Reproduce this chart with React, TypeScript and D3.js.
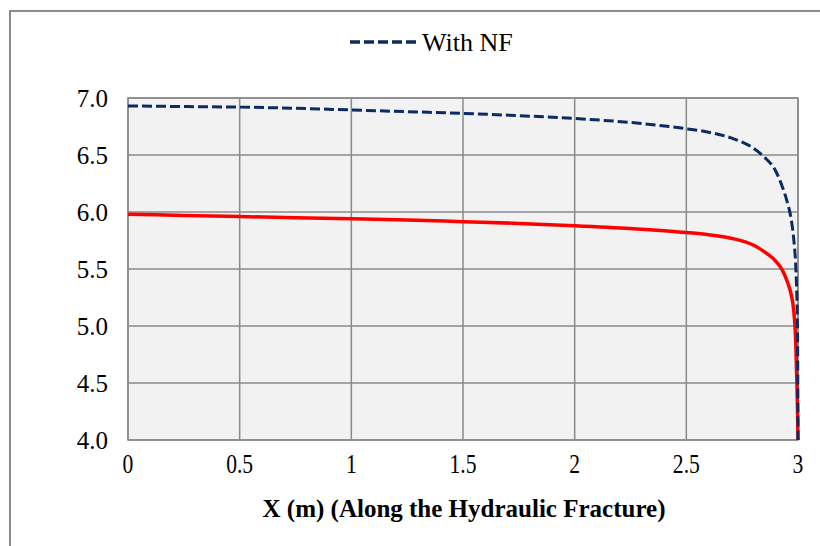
import React, { useRef, useEffect } from "react";
import * as d3 from "d3";

const xValues = [0, 0.25, 0.5, 0.75, 1, 1.25, 1.5, 1.75, 2, 2.25, 2.5, 2.6, 2.7, 2.8, 2.85, 2.9, 2.93, 2.95, 2.97, 2.98, 2.99, 2.995, 2.998, 3.0];
const withNF = [6.93, 6.925, 6.92, 6.91, 6.895, 6.88, 6.865, 6.845, 6.82, 6.785, 6.73, 6.70, 6.65, 6.56, 6.48, 6.36, 6.22, 6.10, 5.93, 5.78, 5.52, 5.25, 4.95, 4.0];
const withoutNF = [5.98, 5.97, 5.96, 5.95, 5.94, 5.93, 5.915, 5.90, 5.88, 5.855, 5.82, 5.80, 5.77, 5.71, 5.65, 5.57, 5.49, 5.40, 5.27, 5.15, 4.85, 4.5, 4.25, 4.0];
const xTicks = [0, 0.5, 1, 1.5, 2, 2.5, 3];
const yTicks = [4.0, 4.5, 5.0, 5.5, 6.0, 6.5, 7.0];

const W = 820;
const H = 546;
const FONT = "'Liberation Serif', 'Times New Roman', serif";

const App: React.FC = () => {
    const svgRef = useRef<SVGSVGElement | null>(null);

    useEffect(() => {
        if (!svgRef.current) return;
        const svg = d3.select(svgRef.current);
        svg.selectAll("*").remove();

        const left = 128, right = 798, top = 98, bottom = 440;
        const x = d3.scaleLinear().domain([0, 3]).range([left, right]);
        const y = d3.scaleLinear().domain([4, 7]).range([bottom, top]);

        // outer frame (only top/left visible in the crop)
        svg.append("path")
            .attr("d", `M10,${H} L10,11 L${W},11`)
            .attr("fill", "none")
            .attr("stroke", "#8c8c8c")
            .attr("stroke-width", 2);

        // plot area
        svg.append("rect")
            .attr("x", left).attr("y", top)
            .attr("width", right - left).attr("height", bottom - top)
            .attr("fill", "#f2f2f2");

        const grid = svg.append("g").attr("stroke", "#8a8a8a").attr("stroke-width", 1.5);
        yTicks.forEach(t => {
            grid.append("line")
                .attr("x1", left).attr("x2", right)
                .attr("y1", y(t)).attr("y2", y(t));
        });
        xTicks.forEach(t => {
            grid.append("line")
                .attr("x1", x(t)).attr("x2", x(t))
                .attr("y1", top).attr("y2", bottom);
        });

        svg.append("rect")
            .attr("x", left).attr("y", top)
            .attr("width", right - left).attr("height", bottom - top)
            .attr("fill", "none")
            .attr("stroke", "#8a8a8a")
            .attr("stroke-width", 1.5);

        // tick labels
        svg.append("g").selectAll("text")
            .data(yTicks)
            .enter()
            .append("text")
            .attr("x", 108)
            .attr("y", d => y(d))
            .attr("dy", "0.35em")
            .attr("text-anchor", "end")
            .attr("font-family", FONT)
            .attr("font-size", 25)
            .text(d => d.toFixed(1));

        // x ticks look horizontally condensed in the reference
        svg.append("g").selectAll("text")
            .data(xTicks)
            .enter()
            .append("text")
            .attr("transform", d => `translate(${x(d)},464) scale(0.8,1)`)
            .attr("dy", "0.35em")
            .attr("text-anchor", "middle")
            .attr("font-family", FONT)
            .attr("font-size", 27)
            .text(d => String(d));

        svg.append("text")
            .attr("x", 464)
            .attr("y", 508)
            .attr("dy", "0.35em")
            .attr("text-anchor", "middle")
            .attr("font-family", FONT)
            .attr("font-size", 25)
            .attr("font-weight", "bold")
            .text("X (m) (Along the Hydraulic Fracture)");

        // series
        const line = d3.line<number>()
            .x((_, i) => x(xValues[i]))
            .y(d => y(d))
            .curve(d3.curveMonotoneX);

        svg.append("path")
            .datum(withoutNF)
            .attr("d", line)
            .attr("fill", "none")
            .attr("stroke", "#ff0000")
            .attr("stroke-width", 3.5);

        svg.append("path")
            .datum(withNF)
            .attr("d", line)
            .attr("fill", "none")
            .attr("stroke", "#0c2a63")
            .attr("stroke-width", 3)
            .attr("stroke-dasharray", "10,4");

        // legend
        svg.append("line")
            .attr("x1", 350).attr("x2", 420)
            .attr("y1", 42).attr("y2", 42)
            .attr("stroke", "#0c2a63")
            .attr("stroke-width", 3.5)
            .attr("stroke-dasharray", "10,4");
        svg.append("text")
            .attr("x", 422)
            .attr("y", 42)
            .attr("dy", "0.35em")
            .attr("font-family", FONT)
            .attr("font-size", 26)
            .text("With NF");
    }, []);

    return (
        <svg
            ref={svgRef}
            width={W}
            height={H}
            style={{ position: "absolute", left: 0, top: 0, background: "#ffffff" }}
        />
    );
};

export default App;
